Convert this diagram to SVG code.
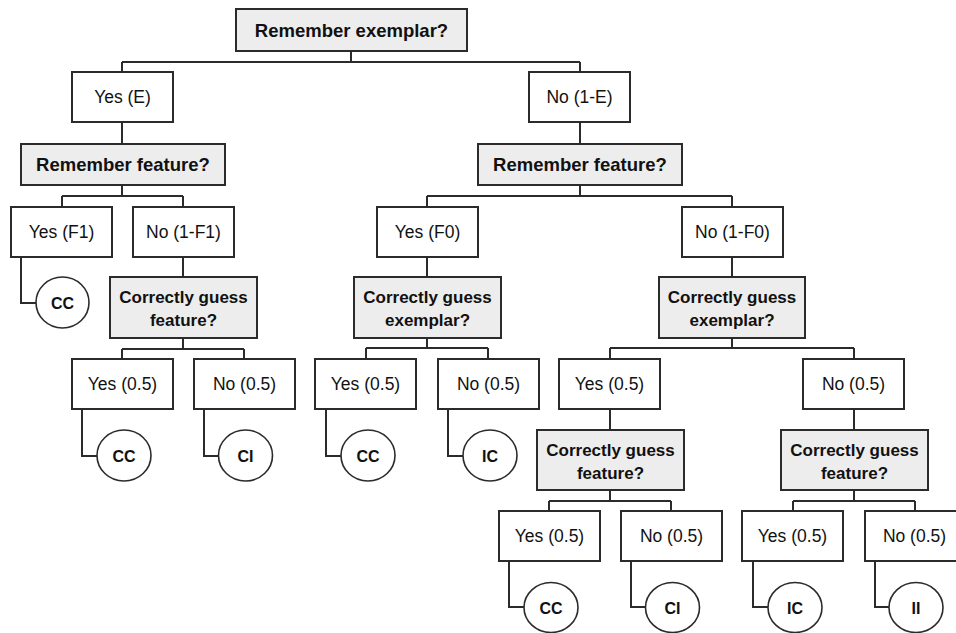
<svg xmlns="http://www.w3.org/2000/svg" width="956" height="633" viewBox="0 0 956 633">
<style>
.b{fill:#fff;stroke:#2b2b2b;stroke-width:2}
.q{fill:#ededed;stroke:#2b2b2b;stroke-width:2}
.c{fill:#fff;stroke:#2b2b2b;stroke-width:1.6}
.t{font-family:"Liberation Sans",Arial,sans-serif;font-size:17.5px;fill:#111;text-anchor:middle}
.tb{font-family:"Liberation Sans",Arial,sans-serif;font-size:17px;font-weight:bold;fill:#111;text-anchor:middle}
.tr{font-family:"Liberation Sans",Arial,sans-serif;font-size:18.5px;font-weight:bold;fill:#111;text-anchor:middle}
.tc{font-family:"Liberation Sans",Arial,sans-serif;font-size:16px;font-weight:bold;fill:#111;text-anchor:middle}
#conn path{fill:none;stroke:#2b2b2b;stroke-width:2}
</style>
<rect width="956" height="633" fill="#fff"/>
<g id="conn">
<path d="M351 51V62M122 62H580M122 62V72M580 62V72"/>
<path d="M122 122V144M580 122V144"/>
<path d="M122 185V196M62 196H183M62 196V207M183 196V207"/>
<path d="M580 185V196M427 196H732M427 196V207M732 196V207"/>
<path d="M21 257V303H36"/>
<path d="M183 257V277M427 257V277M732 257V277"/>
<path d="M183 338V349M122 349H244M122 349V359M244 349V359"/>
<path d="M427 338V348M366 348H488M366 348V359M488 348V359"/>
<path d="M732 338V348M610 348H854M610 348V359M854 348V359"/>
<path d="M82 409V456H97M204 409V456H219M326 409V456H341M448 409V456H463"/>
<path d="M610 409V430M854 409V430"/>
<path d="M610 490V501M549 501H671M549 501V511M671 501V511"/>
<path d="M854 490V501M793 501H915M793 501V511M915 501V511"/>
<path d="M509 561V607H524M631 561V607H646M753 561V607H768M875 561V607H890"/>
</g>
<g id="n_root"><rect class="q" x="236" y="9" width="231" height="42"/><text class="tr" x="351.5" y="36.5">Remember exemplar?</text></g>
<g id="n_yesE"><rect class="b" x="72" y="72" width="101" height="50"/><text class="t" x="122.5" y="103">Yes (E)</text></g>
<g id="n_noE"><rect class="b" x="529" y="72" width="101" height="50"/><text class="t" x="579.5" y="103">No (1-E)</text></g>
<g id="n_rfL"><rect class="q" x="21" y="144" width="204" height="41"/><text class="tr" x="123" y="171">Remember feature?</text></g>
<g id="n_rfR"><rect class="q" x="478" y="144" width="204" height="41"/><text class="tr" x="580" y="171">Remember feature?</text></g>
<g id="n_yesF1"><rect class="b" x="11" y="207" width="101" height="50"/><text class="t" x="61.5" y="238">Yes (F1)</text></g>
<g id="n_noF1"><rect class="b" x="133" y="207" width="101" height="50"/><text class="t" x="183.5" y="238">No (1-F1)</text></g>
<g id="n_yesF0"><rect class="b" x="377" y="207" width="101" height="50"/><text class="t" x="427.5" y="238">Yes (F0)</text></g>
<g id="n_noF0"><rect class="b" x="682" y="207" width="101" height="50"/><text class="t" x="732.5" y="238">No (1-F0)</text></g>
<g id="n_cc1"><ellipse class="c" cx="62.5" cy="302.5" rx="26.5" ry="25.5"/><text class="tc" x="62.5" y="308.5">CC</text></g>
<g id="n_cgf1"><rect class="q" x="110" y="277" width="147" height="61"/><text class="tb" x="183.5" y="303">Correctly guess</text><text class="tb" x="183.5" y="326">feature?</text></g>
<g id="n_cge1"><rect class="q" x="354" y="277" width="147" height="61"/><text class="tb" x="427.5" y="303">Correctly guess</text><text class="tb" x="427.5" y="326">exemplar?</text></g>
<g id="n_cge2"><rect class="q" x="659" y="277" width="146" height="61"/><text class="tb" x="732" y="303">Correctly guess</text><text class="tb" x="732" y="326">exemplar?</text></g>
<g id="n_y1"><rect class="b" x="72" y="359" width="101" height="50"/><text class="t" x="122.5" y="390">Yes (0.5)</text></g>
<g id="n_n1"><rect class="b" x="194" y="359" width="101" height="50"/><text class="t" x="244.5" y="390">No (0.5)</text></g>
<g id="n_y2"><rect class="b" x="315" y="359" width="101" height="50"/><text class="t" x="365.5" y="390">Yes (0.5)</text></g>
<g id="n_n2"><rect class="b" x="438" y="359" width="101" height="50"/><text class="t" x="488.5" y="390">No (0.5)</text></g>
<g id="n_y3"><rect class="b" x="559" y="359" width="101" height="50"/><text class="t" x="609.5" y="390">Yes (0.5)</text></g>
<g id="n_n3"><rect class="b" x="803" y="359" width="101" height="50"/><text class="t" x="853.5" y="390">No (0.5)</text></g>
<g id="n_cc2"><ellipse class="c" cx="124" cy="455.5" rx="27" ry="25.5"/><text class="tc" x="124" y="461.5">CC</text></g>
<g id="n_ci1"><ellipse class="c" cx="245.5" cy="455.5" rx="27" ry="25.5"/><text class="tc" x="245.5" y="461.5">CI</text></g>
<g id="n_cc3"><ellipse class="c" cx="368" cy="455.5" rx="27" ry="25.5"/><text class="tc" x="368" y="461.5">CC</text></g>
<g id="n_ic1"><ellipse class="c" cx="490" cy="455.5" rx="27" ry="25.5"/><text class="tc" x="490" y="461.5">IC</text></g>
<g id="n_cgf2"><rect class="q" x="537" y="430" width="147" height="60"/><text class="tb" x="610.5" y="455.5">Correctly guess</text><text class="tb" x="610.5" y="478.5">feature?</text></g>
<g id="n_cgf3"><rect class="q" x="781" y="430" width="147" height="60"/><text class="tb" x="854.5" y="455.5">Correctly guess</text><text class="tb" x="854.5" y="478.5">feature?</text></g>
<g id="n_y4"><rect class="b" x="499" y="511" width="101" height="50"/><text class="t" x="549.5" y="542">Yes (0.5)</text></g>
<g id="n_n4"><rect class="b" x="621" y="511" width="101" height="50"/><text class="t" x="671.5" y="542">No (0.5)</text></g>
<g id="n_y5"><rect class="b" x="742" y="511" width="101" height="50"/><text class="t" x="792.5" y="542">Yes (0.5)</text></g>
<g id="n_n5"><rect class="b" x="865" y="511" width="101" height="50"/><text class="t" x="914.5" y="542">No (0.5)</text></g>
<g id="n_cc4"><ellipse class="c" cx="551" cy="607.5" rx="27" ry="25"/><text class="tc" x="551" y="613.5">CC</text></g>
<g id="n_ci2"><ellipse class="c" cx="672.5" cy="607.5" rx="27" ry="25"/><text class="tc" x="672.5" y="613.5">CI</text></g>
<g id="n_ic2"><ellipse class="c" cx="795" cy="607.5" rx="27" ry="25"/><text class="tc" x="795" y="613.5">IC</text></g>
<g id="n_ii"><ellipse class="c" cx="916" cy="607.5" rx="27" ry="25"/><text class="tc" x="916" y="613.5">II</text></g>
</svg>
